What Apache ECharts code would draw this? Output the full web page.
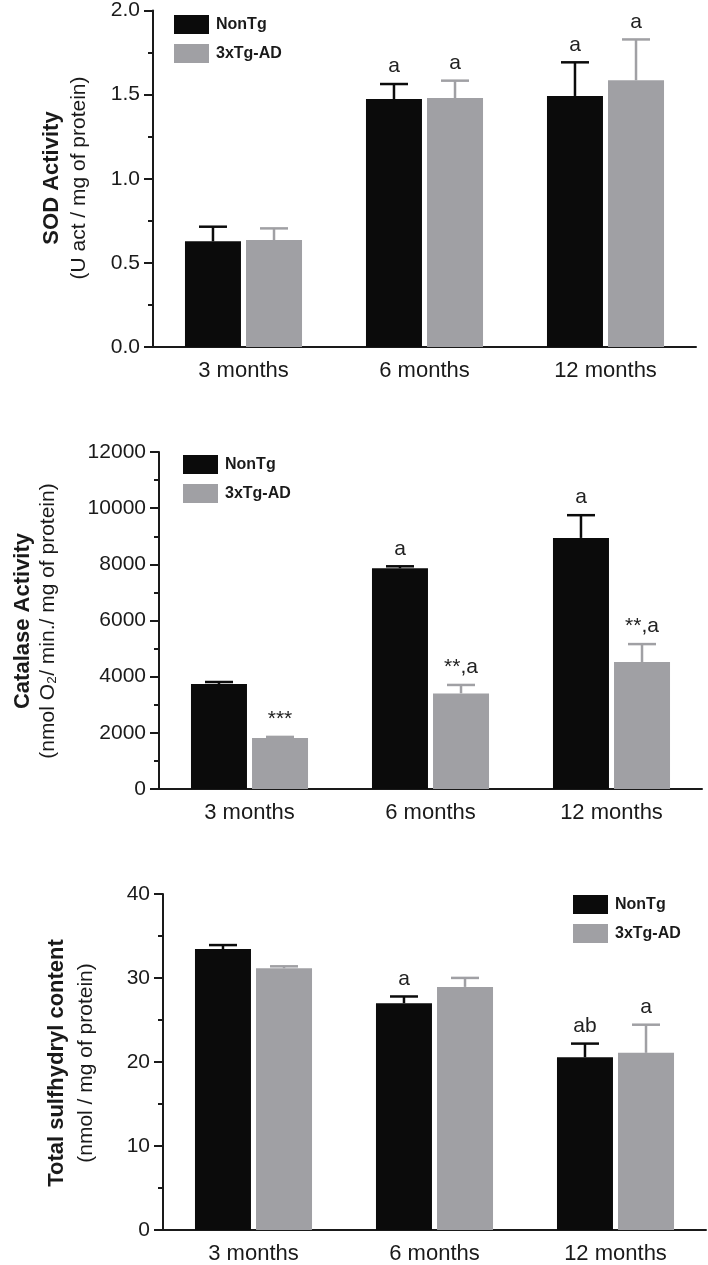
<!DOCTYPE html>
<html>
<head>
<meta charset="utf-8">
<script src="https://cdn.jsdelivr.net/npm/echarts@6/dist/echarts.min.js"></script>
<style>
html,body{margin:0;padding:0;background:#fff;}
#chart{width:708px;height:1265px;}
</style>
</head>
<body>
<div id="chart"></div>
<script>
// ---------- DATA ----------
const categories = ['3 months', '6 months', '12 months'];
const groupNames = ['NonTg', '3xTg-AD'];

// SOD activity (U act / mg of protein)
const sodNonTg = [0.628, 1.474, 1.492];
const sodNonTgErr = [0.087, 0.089, 0.200];
const sodTg = [0.636, 1.480, 1.585];
const sodTgErr = [0.069, 0.103, 0.243];
const sodNonTgSig = ['', 'a', 'a'];
const sodTgSig = ['', 'a', 'a'];
const sodTicks = [0, 0.5, 1.0, 1.5, 2.0];

// Catalase activity (nmol O2 / min / mg of protein)
const catNonTg = [3740, 7860, 8940];
const catNonTgErr = [70, 70, 810];
const catTg = [1815, 3405, 4520];
const catTgErr = [40, 300, 640];
const catNonTgSig = ['', 'a', 'a'];
const catTgSig = ['***', '**,a', '**,a'];
const catTicks = [0, 2000, 4000, 6000, 8000, 10000, 12000];

// Total sulfhydryl content (nmol / mg of protein)
const shNonTg = [33.45, 27.0, 20.57];
const shNonTgErr = [0.47, 0.80, 1.62];
const shTg = [31.16, 28.94, 21.09];
const shTgErr = [0.23, 1.07, 3.35];
const shNonTgSig = ['', 'a', 'ab'];
const shTgSig = ['', '', 'a'];
const shTicks = [0, 10, 20, 30, 40];

// ---------- STYLE ----------
const FONT = '"Liberation Sans", Arial, Helvetica, sans-serif';
const BLACK = '#0b0b0b';
const GRAY = '#a0a0a4';
const AXIS = '#1a1a1a';
const BAR_W = 56;
const BAR_GAP = 0.09;
const OFFSET = (BAR_W + BAR_W * BAR_GAP) / 2;

const panels = [
  { top: 9, height: 338, left: 153, width: 543, ticks: sodTicks, dec: 1,
    s: [[sodNonTg, sodNonTgErr, sodNonTgSig], [sodTg, sodTgErr, sodTgSig]],
    legend: { left: 174, top: 15 } },
  { top: 452, height: 337, left: 159, width: 543, ticks: catTicks, dec: 0,
    s: [[catNonTg, catNonTgErr, catNonTgSig], [catTg, catTgErr, catTgSig]],
    legend: { left: 183, top: 455 } },
  { top: 894, height: 338, left: 163, width: 543, ticks: shTicks, dec: 0,
    s: [[shNonTg, shNonTgErr, shNonTgSig], [shTg, shTgErr, shTgSig]],
    legend: { left: 573, top: 895 } }
];

const grid = [], xAxis = [], yAxis = [], series = [], legend = [];

function errRender(vals, errs, sigs, sign, color) {
  return function (params, api) {
    const i = params.dataIndex;
    const ci = api.value(0);
    const v = api.value(1);
    const e = api.value(2);
    const base = api.coord([ci, v]);
    const top = api.coord([ci, v + e]);
    const x = base[0] + sign * OFFSET;
    const half = BAR_W / 4;
    const children = [
      { type: 'line', shape: { x1: x, y1: base[1], x2: x, y2: top[1] },
        style: { stroke: color, lineWidth: 2.5 } },
      { type: 'line', shape: { x1: x - half, y1: top[1], x2: x + half, y2: top[1] },
        style: { stroke: color, lineWidth: 2.5 } }
    ];
    if (sigs[i]) {
      children.push({ type: 'text', x: x, y: top[1] - 7,
        style: { text: sigs[i], font: '21px ' + FONT, fill: '#222',
                 textAlign: 'center', textVerticalAlign: 'bottom' } });
    }
    return { type: 'group', children: children };
  };
}

panels.forEach(function (p, k) {
  const tmin = p.ticks[0], tmax = p.ticks[p.ticks.length - 1];
  const step = p.ticks[1] - p.ticks[0];
  grid.push({ left: p.left, top: p.top, width: p.width, height: p.height, containLabel: false });
  xAxis.push({
    type: 'category', gridIndex: k, data: categories,
    axisLine: { lineStyle: { color: AXIS, width: 2 } },
    axisTick: { alignWithLabel: true, length: 9, lineStyle: { color: AXIS, width: 2 } },
    axisLabel: { fontFamily: FONT, fontSize: 22, color: '#1a1a1a', margin: 13 },
    splitLine: { show: false }
  });
  yAxis.push({
    type: 'value', gridIndex: k, min: tmin, max: tmax, interval: step,
    axisLine: { show: true, lineStyle: { color: AXIS, width: 2 } },
    axisTick: { show: true, length: 9, lineStyle: { color: AXIS, width: 2 } },
    minorTick: { show: true, splitNumber: 2, length: 5, lineStyle: { color: AXIS, width: 2 } },
    axisLabel: { fontFamily: FONT, fontSize: 21, color: '#1a1a1a', margin: 13,
      formatter: function (v) { return v.toFixed(p.dec); } },
    splitLine: { show: false }
  });
  const colors = [BLACK, GRAY];
  p.s.forEach(function (sd, j) {
    series.push({
      type: 'bar', name: groupNames[j], xAxisIndex: k, yAxisIndex: k,
      data: sd[0], barWidth: BAR_W, barGap: (BAR_GAP * 100) + '%',
      itemStyle: { color: colors[j] }, z: 2, silent: true
    });
  });
  p.s.forEach(function (sd, j) {
    series.push({
      type: 'custom', name: groupNames[j] + '-err', xAxisIndex: k, yAxisIndex: k,
      data: sd[0].map(function (v, i) { return [i, v, sd[1][i]]; }),
      renderItem: errRender(sd[0], sd[1], sd[2], j === 0 ? -1 : 1, colors[j]),
      z: 3, silent: true
    });
  });
  legend.push({
    data: groupNames, orient: 'vertical', left: p.legend.left, top: p.legend.top,
    padding: 0, itemWidth: 35, itemHeight: 19, itemGap: 10, icon: 'rect',
    selectedMode: false,
    textStyle: { fontFamily: FONT, fontSize: 16, fontWeight: 'bold', color: '#1a1a1a', padding: [0, 0, 0, 2] }
  });
});

function vtext(x, y, text, bold, size) {
  return { type: 'text', x: x, y: y, rotation: Math.PI / 2,
    style: { text: text, font: (bold ? 'bold ' : '') + size + 'px ' + FONT,
             fill: '#1a1a1a', textAlign: 'center', textVerticalAlign: 'middle' } };
}

const graphic = [
  vtext(52, 178, 'SOD Activity', true, 22),
  vtext(79, 178, '(U act / mg of protein)', false, 21),
  vtext(23, 621, 'Catalase Activity', true, 22),
  vtext(48, 621, '(nmol O\u2082/ min./ mg of protein)', false, 21),
  vtext(57, 1063, 'Total sulfhydryl content', true, 22),
  vtext(86, 1063, '(nmol / mg of protein)', false, 21)
];

const chart = echarts.init(document.getElementById('chart'), null, { renderer: 'canvas' });
chart.setOption({
  backgroundColor: '#ffffff',
  animation: false,
  grid: grid, xAxis: xAxis, yAxis: yAxis, series: series, legend: legend,
  graphic: graphic
});
</script>
</body>
</html>
